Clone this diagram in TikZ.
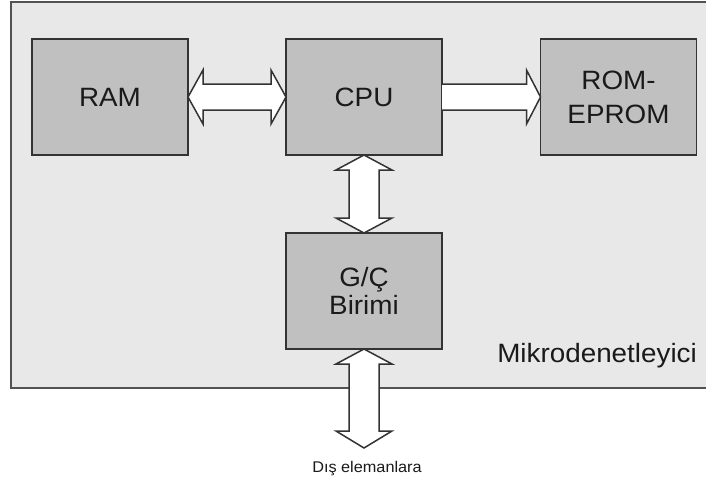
\documentclass[tikz,border=0pt]{standalone}
\usepackage{fontspec}
\setmainfont{Liberation Sans}[FakeStretch=1.05]
\usetikzlibrary{calc}
\definecolor{outerfill}{HTML}{E8E8E8}
\definecolor{boxfill}{HTML}{C0C0C0}
\definecolor{edge}{HTML}{333333}
\definecolor{txt}{HTML}{1A1A1A}
\begin{document}
\begin{tikzpicture}[x=1pt,y=-1pt,
  unit/.style={draw=edge,fill=boxfill,line width=1.8pt,minimum width=156pt,minimum height=116pt,
    inner sep=0pt,outer sep=0pt,text=txt,font=\fontsize{26.5}{34}\selectfont,align=center},
  fat/.style={draw=edge,fill=white,line width=1.5pt,line join=miter},
  lbl/.style={text=txt,inner sep=0pt}]
\useasboundingbox (0,0) rectangle (706,483);
\fill[white] (0,0) rectangle (706,483);
\draw[draw=edge!85,fill=outerfill,line width=2pt] (11,1.5) rectangle (730,388);
\node[unit] (ram) at (110,97) {RAM};
\node[unit] (cpu) at (364,97) {CPU};
\node[unit] (rom) at (618.5,97) {ROM-\\EPROM};
\node[unit,font=\fontsize{26.5}{28}\selectfont] (gc) at (364,291) {G/Ç\\Birimi};
\node[lbl,anchor=base east,font=\fontsize{26.5}{30}\selectfont] (mk) at (697,362) {Mikrodenetleyici};
\node[lbl,anchor=base,font=\fontsize{15.5}{17}\selectfont] (dis) at (367,472) {Dış elemanlara};
\coordinate (out) at (364,448);
% RAM <-> CPU
\draw[fat] (ram.east) -- ++(15,-27) -- ++(0,14) -- ($(cpu.west)+(-15,-13)$) -- ++(0,-14)
  -- (cpu.west) -- ++(-15,27) -- ++(0,-14) -- ($(ram.east)+(15,13)$) -- ++(0,14) -- cycle;
% CPU -> ROM
\draw[fat] ($(cpu.east)+(0,-13)$) -- ($(rom.west)+(-14,-13)$) -- ++(0,-14) -- (rom.west)
  -- ++(-14,27) -- ++(0,-14) -- ($(cpu.east)+(0,13)$);
% CPU <-> G/C
\draw[fat] (cpu.south) -- ++(28,15) -- ++(-13,0) -- ($(gc.north)+(15,-15)$) -- ++(13,0)
  -- (gc.north) -- ++(-28,-15) -- ++(13,0) -- ($(cpu.south)+(-15,15)$) -- ++(-13,0) -- cycle;
% G/C <-> outside
\draw[fat] (gc.south) -- ++(28,15) -- ++(-13,0) -- ($(out)+(15,-17)$) -- ++(13,0)
  -- (out) -- ++(-28,-17) -- ++(13,0) -- ($(gc.south)+(-15,15)$) -- ++(-13,0) -- cycle;
\end{tikzpicture}
\end{document}
